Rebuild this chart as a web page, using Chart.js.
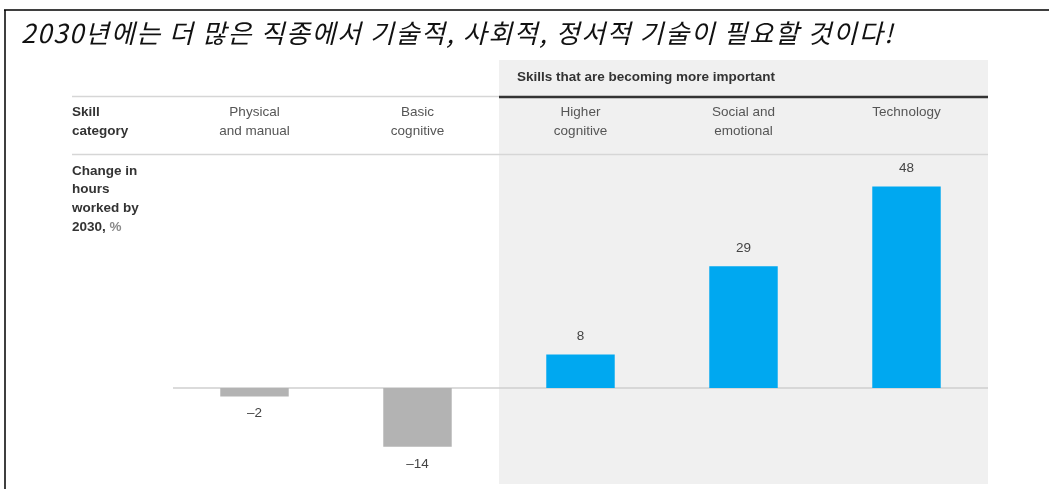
<!DOCTYPE html>
<html>
<head>
<meta charset="utf-8">
<script src="https://cdn.jsdelivr.net/npm/chart.js@4"></script>
<style>
  html, body { margin: 0; padding: 0; background: #fff; }
  #wrap { width: 1049px; height: 489px; position: relative; }
</style>
</head>
<body>
<div id="wrap"><canvas id="skillsChart"></canvas></div>
<script>
// Chart data
const title = '2030년에는 더 많은 직종에서 기술적, 사회적, 정서적 기술이 필요할 것이다!';
const groupTitle = 'Skills that are becoming more important';
const rowLabel = ['Skill', 'category'];
const axisTitle = ['Change in', 'hours', 'worked by', '2030, '];
const axisUnit = '%';
const categories = [['Physical', 'and manual'], ['Basic', 'cognitive'], ['Higher', 'cognitive'], ['Social and', 'emotional'], ['Technology']];
const changeInHours = [-2, -14, 8, 29, 48];
const barColors = ['#b3b3b3', '#b3b3b3', '#00a8f0', '#00a8f0', '#00a8f0'];
const firstImportant = 2; // index where the shaded "more important" group starts

const fmt = v => v < 0 ? '\u2013' + Math.abs(v) : String(v);

// Draws the shaded panel, header rows, rules and labels around the bars
const decorPlugin = {
  id: 'decor',
  beforeDatasetsDraw(chart) {
    const { ctx, chartArea } = chart;
    const x = chart.scales.x, y = chart.scales.y;
    const step = x.getPixelForValue(1) - x.getPixelForValue(0);
    const panelLeft = x.getPixelForValue(firstImportant) - step / 2;
    const right = chartArea.right;
    ctx.save();

    // frame
    ctx.strokeStyle = '#000';
    ctx.lineWidth = 1.5;
    ctx.beginPath();
    ctx.moveTo(4, 10); ctx.lineTo(1049, 10);
    ctx.moveTo(5, 10); ctx.lineTo(5, 489);
    ctx.stroke();

    // title
    ctx.fillStyle = '#111';
    ctx.font = 'italic 26px "Noto Sans CJK KR"';
    ctx.textBaseline = 'alphabetic';
    ctx.textAlign = 'left';
    ctx.letterSpacing = '1.6px';
    ctx.fillText(title, 21, 43);
    ctx.letterSpacing = '0px';

    // shaded panel
    ctx.fillStyle = '#f0f0f0';
    ctx.fillRect(panelLeft, 60, right - panelLeft, 424);

    // rules
    ctx.strokeStyle = '#d6d6d6';
    ctx.lineWidth = 1.5;
    ctx.beginPath();
    ctx.moveTo(72, 96.5); ctx.lineTo(panelLeft, 96.5);
    ctx.moveTo(72, 154.5); ctx.lineTo(right, 154.5);
    ctx.stroke();
    ctx.strokeStyle = '#333';
    ctx.lineWidth = 2.5;
    ctx.beginPath();
    ctx.moveTo(panelLeft, 97); ctx.lineTo(right, 97);
    ctx.stroke();

    // zero line
    const y0 = y.getPixelForValue(0);
    ctx.strokeStyle = '#cfcfcf';
    ctx.lineWidth = 1.5;
    ctx.beginPath();
    ctx.moveTo(chartArea.left, y0); ctx.lineTo(right, y0);
    ctx.stroke();

    // header text
    ctx.textBaseline = 'middle';
    ctx.fillStyle = '#333';
    ctx.font = 'bold 13.5px "Liberation Sans"';
    ctx.fillText(groupTitle, panelLeft + 18, 77);

    // row labels
    rowLabel.forEach((t, i) => ctx.fillText(t, 72, 112 + i * 19));
    axisTitle.forEach((t, i) => ctx.fillText(t, 72, 171 + i * 18.7));
    const last = axisTitle.length - 1;
    const w = ctx.measureText(axisTitle[last]).width;
    ctx.fillStyle = '#8a8a8a';
    ctx.fillText(axisUnit, 72 + w, 171 + last * 18.7);

    // category labels
    ctx.fillStyle = '#555';
    ctx.font = '13.5px "Liberation Sans"';
    ctx.textAlign = 'center';
    categories.forEach((lines, i) => {
      const cx = x.getPixelForValue(i);
      lines.forEach((t, j) => ctx.fillText(t, cx, 112 + j * 19));
    });
    ctx.restore();
  },
  afterDatasetsDraw(chart) {
    const { ctx } = chart;
    const meta = chart.getDatasetMeta(0);
    ctx.save();
    ctx.fillStyle = '#444';
    ctx.font = '13.5px "Liberation Sans"';
    ctx.textAlign = 'center';
    ctx.textBaseline = 'middle';
    meta.data.forEach((bar, i) => {
      const v = changeInHours[i];
      const ly = v < 0 ? bar.y + 17 : bar.y - 18;
      ctx.fillText(fmt(v), bar.x, ly);
    });
    ctx.restore();
  }
};

const ctx = document.getElementById('skillsChart').getContext('2d');
const skillsChart = new Chart(ctx, {
  type: 'bar',
  data: {
    labels: categories,
    datasets: [{
      label: 'Change in hours worked by 2030, %',
      data: changeInHours,
      backgroundColor: barColors,
      borderWidth: 0,
      barPercentage: 0.42,
      categoryPercentage: 1
    }]
  },
  options: {
    responsive: true,
    maintainAspectRatio: false,
    animation: false,
    layout: { padding: { left: 173, right: 61, top: 178, bottom: 17 } },
    plugins: {
      legend: { display: false },
      tooltip: { enabled: false }
    },
    scales: {
      x: { display: false },
      y: { display: false, min: -20, max: 50 }
    }
  },
  plugins: [decorPlugin]
});
</script>
</body>
</html>
